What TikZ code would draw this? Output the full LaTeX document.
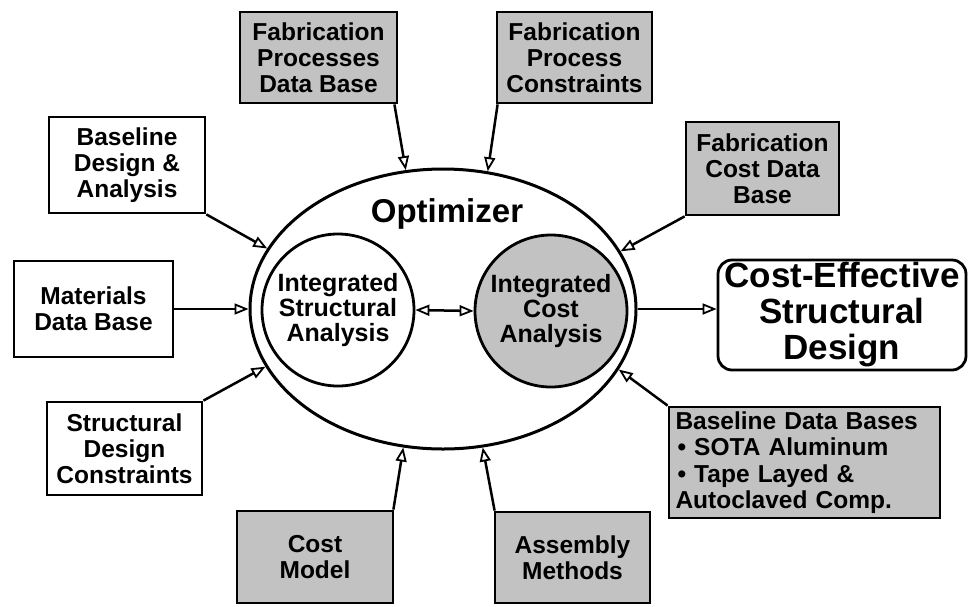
\documentclass[tikz,border=0pt]{standalone}
\usepackage{fontspec}
\setmainfont{Liberation Sans}
\usetikzlibrary{shapes.geometric,arrows.meta,calc}
\tikzset{
  box/.style={draw, line width=2.8pt, rectangle, inner sep=0pt, align=center,
    font=\bfseries\fontsize{24.5}{26}\selectfont},
  shaded/.style={fill=black!24},
  tip/.style={Triangle[open, length=14pt, width=11pt, line width=1.8pt]},
  conn/.style={line width=2.5pt, -{Triangle[open, length=14pt, width=11pt, line width=1.8pt]}},
  dconn/.style={line width=2.5pt, {Triangle[open, length=14pt, width=11pt, line width=1.8pt]}-{Triangle[open, length=14pt, width=11pt, line width=1.8pt]}},
  circ/.style={draw, circle, line width=2.8pt, minimum size=152pt, inner sep=0pt, align=center,
    font=\bfseries\fontsize{25}{25}\selectfont}
}
\begin{document}
\begin{tikzpicture}[x=1pt,y=-1pt]
\useasboundingbox (0,0) rectangle (968,606);
% central ellipse
\node[draw, ellipse, line width=3pt, minimum width=386pt, minimum height=280pt, inner sep=0pt] (opt) at (443,309) {};
\node[font=\bfseries\fontsize{33}{33}\selectfont] (optlbl) at (447,214) {Optimizer};
\node[circ] (isa) at (338,310) {Integrated\\Structural\\Analysis};
\node[circ, shaded] (ica) at (551,311) {Integrated\\Cost\\Analysis};
% output
\node[draw, line width=2.8pt, rounded corners=14pt, minimum width=248pt, minimum height=110pt, inner sep=0pt,
  align=center, font=\bfseries\fontsize{35}{36}\selectfont] (out) at (842,315) {Cost-Effective\\Structural\\Design};
% input boxes
\node[box, shaded, minimum width=157pt, minimum height=91pt] (fpdb) at (318.5,57.5) {Fabrication\\Processes\\Data Base};
\node[box, shaded, minimum width=155pt, minimum height=91pt] (fpc) at (574.5,57.5) {Fabrication\\Process\\Constraints};
\node[box, shaded, minimum width=153pt, minimum height=93pt] (fcdb) at (762.5,168.5) {Fabrication\\Cost Data\\Base};
\node[box, minimum width=156pt, minimum height=96pt] (bda) at (127,165) {Baseline\\Design \&\\Analysis};
\node[box, minimum width=159pt, minimum height=96pt] (mdb) at (93.5,309) {Materials\\Data Base};
\node[box, minimum width=155pt, minimum height=93pt] (sdc) at (124.5,448.5) {Structural\\Design\\Constraints};
\node[box, shaded, minimum width=156pt, minimum height=92pt] (cm) at (315,557) {Cost\\Model};
\node[box, shaded, minimum width=155pt, minimum height=91pt] (am) at (572.5,557.5) {Assembly\\Methods};
\node[box, shaded, minimum width=271pt, minimum height=111pt, align=left, text width=258pt,
  font=\bfseries\fontsize{24.5}{26.5}\selectfont] (bdb) at (804.5,462.5)
  {Baseline Data Bases\\\hspace*{2pt}• SOTA Aluminum\\\hspace*{2pt}• Tape Layed \&\\Autoclaved Comp.};
% connectors
\draw[conn] ($(fpdb.south east)+(-4,0)$) -- (opt.105);
\draw[conn] ($(fpc.south west)+(2,0)$) -- (opt.72.8);
\draw[conn] (fcdb.south west) -- (opt.18.7);
\draw[conn] (bda.south east) -- (opt.161.5);
\draw[conn] (mdb.east) -- (opt.180);
\draw[conn] (sdc.north east) -- (opt.198.5);
\draw[conn] ($(cm.north east)+(-1,0)$) -- (opt.254.6);
\draw[conn] ($(am.north west)+(1,0)$) -- (opt.286);
\draw[conn] (bdb.north west) -- (opt.341);
\draw[conn] (opt.east) -- (opt.east -| out.west);
\draw[dconn] (isa.east) -- (ica.west);
\end{tikzpicture}
\end{document}
